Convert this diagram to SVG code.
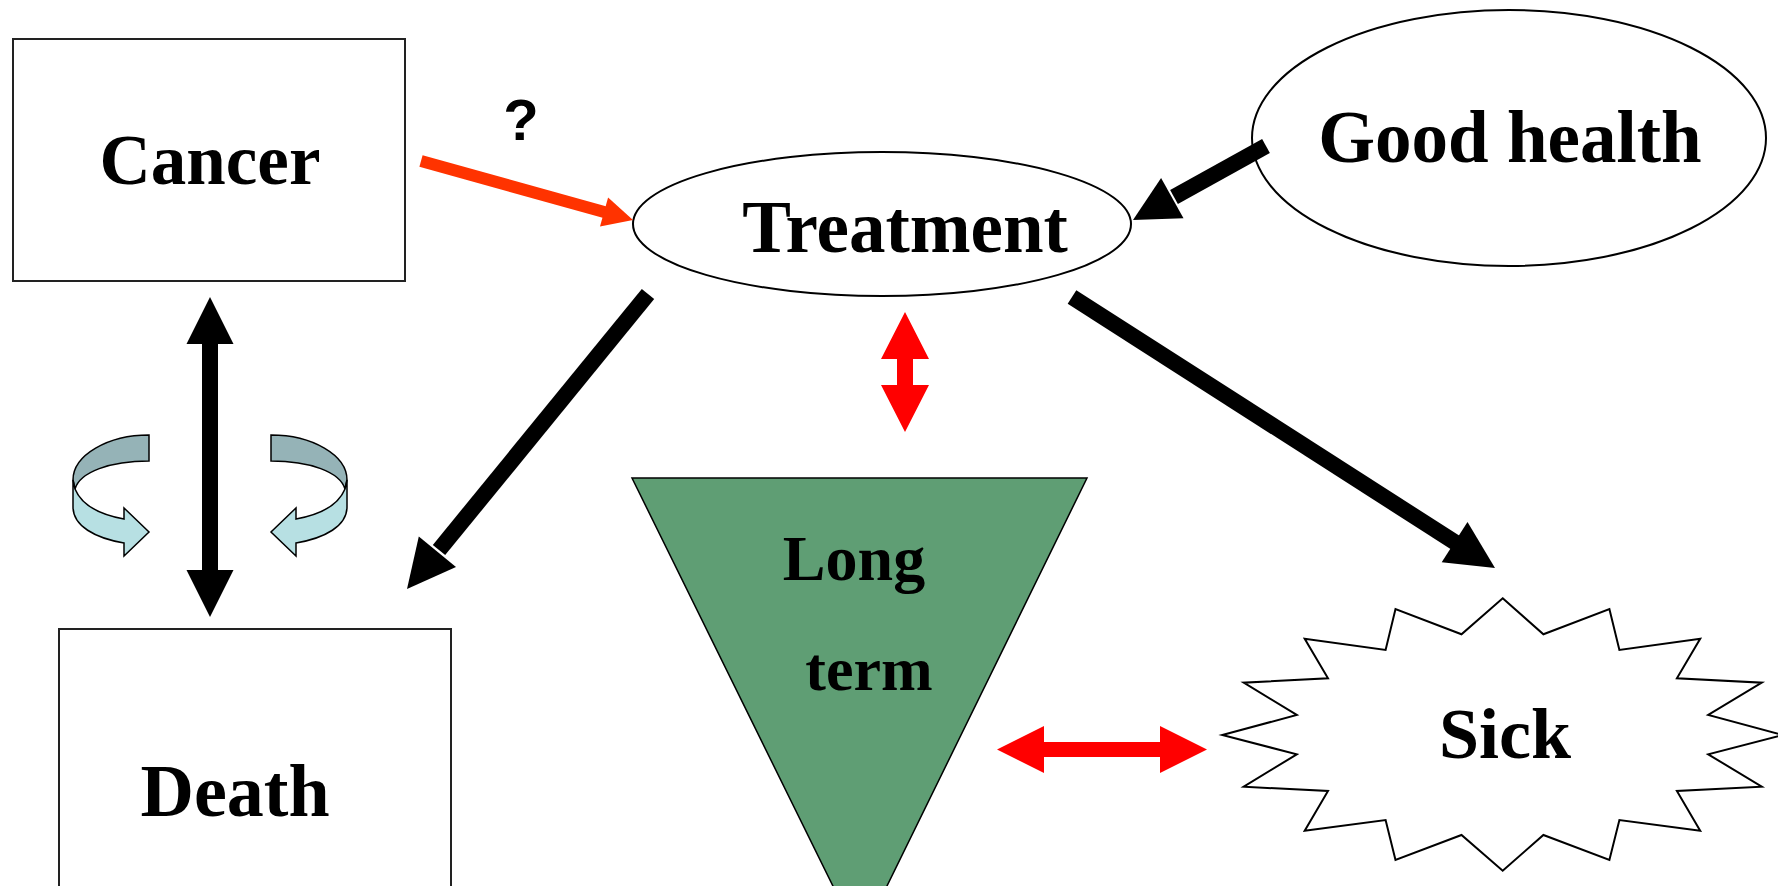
<svg xmlns="http://www.w3.org/2000/svg" width="1778" height="886" viewBox="0 0 1778 886">
<style>
.lbl{font-family:"Liberation Serif","Times New Roman",serif;font-weight:bold;fill:#000;text-anchor:middle}
.box{fill:#fff;stroke:#222;stroke-width:2}
.blk{fill:#000}
.blkline{stroke:#000;stroke-width:16;fill:none}
.red{fill:#FF0000}
.orange{fill:#FF3300}
.back{fill:#95B3B7;stroke:#000;stroke-width:1.5}
.front{fill:#B7E0E3;stroke:#000;stroke-width:1.5}
</style>
<rect width="1778" height="886" fill="#fff"/>

<g id="node-cancer">
<rect class="box" x="13" y="39" width="392" height="242"/>
<text class="lbl" x="210" y="184" font-size="71">Cancer</text>
</g>

<g id="node-death">
<rect class="box" x="59" y="629" width="392" height="280"/>
<text class="lbl" x="235" y="816" font-size="74">Death</text>
</g>

<g id="node-treatment">
<ellipse cx="882" cy="224" rx="249" ry="72" fill="#fff" stroke="#000" stroke-width="2"/>
<text class="lbl" x="905" y="252" font-size="73">Treatment</text>
</g>

<g id="node-goodhealth">
<ellipse cx="1509" cy="138" rx="257" ry="128" fill="#fff" stroke="#000" stroke-width="2"/>
<text class="lbl" x="1510" y="162" font-size="73">Good health</text>
</g>

<g id="node-longterm">
<polygon points="632,478 1087,478 860,941" fill="#5F9E74" stroke="#000" stroke-width="1.5"/>
<text class="lbl" x="854" y="580" font-size="64">Long</text>
<text class="lbl" x="869" y="690" font-size="62">term</text>
</g>

<g id="node-sick">
<polygon fill="#fff" stroke="#000" stroke-width="2" points="1502.7,598.3 1543.4,634.3 1609.4,609 1619.4,650 1700.2,638.7 1676.9,678.3 1761.8,682.7 1708.2,715 1783,735 1708.2,754.3 1761.8,786.7 1676.9,791 1700.2,830.7 1619.4,820 1609.4,860 1543.4,835 1502.7,870.7 1461.5,835 1395.5,860 1385.6,820 1304.7,830.7 1328,791 1243.7,786.7 1296.8,754.3 1222.3,735 1296.8,715 1243.7,682.7 1328,678.3 1304.7,638.7 1385.6,650 1395.5,609 1461.5,634.3"/>
<text class="lbl" x="1505" y="758" font-size="72">Sick</text>
</g>

<g id="cycle-arrows">
<path class="back" d="M149,435 C108,435 73,455 73,480 L75,489 C80,472 110,461 149,461 Z"/>
<path class="front" d="M75,489 C82,506 102,515 124,519 L124,508 L149,532 L124,556 L124,543 C95,538 73,526 73,507 L73,480 Z"/>
<path class="back" d="M271,435 C312,435 347,455 347,480 L345,489 C340,472 310,461 271,461 Z"/>
<path class="front" d="M345,489 C338,506 318,515 296,519 L296,508 L271,532 L296,556 L296,543 C325,538 347,526 347,507 L347,480 Z"/>
</g>

<g id="connectors">
<line x1="421" y1="161" x2="606" y2="212.5" stroke="#FF3300" stroke-width="12"/>
<polygon class="orange" points="633,220 600,226.5 608.1,197.5"/>
<text x="521" y="140" font-family="'Liberation Sans',Arial,sans-serif" font-weight="bold" font-size="58" text-anchor="middle">?</text>

<line class="blkline" x1="1266" y1="146" x2="1174" y2="197"/>
<polygon class="blk" points="1133,220 1183.5,218.2 1161.1,178"/>

<line class="blkline" x1="648" y1="294" x2="439" y2="550"/>
<polygon class="blk" points="407,589 456,567 418.8,536.6"/>

<line class="blkline" x1="1072" y1="297" x2="1456" y2="543"/>
<polygon class="blk" points="1495,568 1441.7,562.3 1467.5,521.9"/>

<polygon class="blk" points="210,297 233.5,344 218,344 218,570 233.5,570 210,617 186.5,570 202,570 202,344 186.5,344"/>

<polygon class="red" points="905,312 929,359 913,359 913,385 929,385 905,432 881,385 897,385 897,359 881,359"/>

<polygon class="red" points="997,749.5 1044,726 1044,742 1160,742 1160,726 1207,749.5 1160,773 1160,757 1044,757 1044,773"/>
</g>
</svg>
